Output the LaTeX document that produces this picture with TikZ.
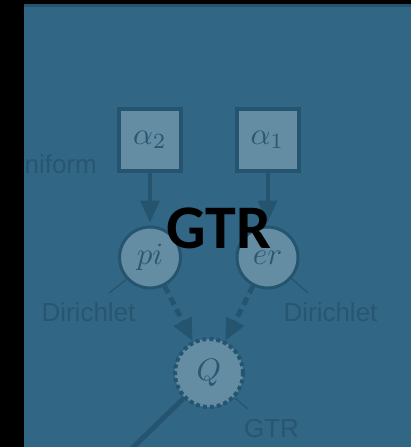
\documentclass[tikz,border=0pt]{standalone}
\usepackage{graphicx}
\usepackage{fontspec}
\setsansfont{Liberation Sans}
\newfontfamily\bigfont{Carlito}
\usetikzlibrary{arrows.meta}
\definecolor{bgblue}{RGB}{49,103,133}
\definecolor{nodefill}{RGB}{100,141,163}
\definecolor{darkline}{RGB}{37,84,111}
\definecolor{labelc}{RGB}{40,86,113}
\definecolor{mathc}{RGB}{42,88,114}
\newcommand{\bigmath}[1]{\scalebox{3.1}{$#1$}}
\begin{document}
\begin{tikzpicture}[x=1pt,y=-1pt,
  hyper/.style={rectangle,draw=darkline,fill=nodefill,text=mathc,line width=4pt,minimum size=62pt,inner sep=0pt},
  rv/.style={circle,draw=darkline,fill=nodefill,text=mathc,line width=3pt,minimum size=61pt,inner sep=0pt},
  det/.style={circle,draw=darkline,fill=nodefill,text=mathc,line width=4pt,dash pattern=on 4pt off 3pt,minimum size=68pt,inner sep=0pt},
  lbl/.style={font=\sffamily\fontsize{26}{26}\selectfont,text=labelc,inner sep=0pt,anchor=base},
  thinline/.style={draw=darkline,line width=1.3pt},
  arr/.style={draw=darkline,line width=4pt,-{Triangle[length=22pt,width=19pt]}},
  darr/.style={arr,line width=5pt,dash pattern=on 8pt off 5pt}
]
\useasboundingbox (0,0) rectangle (411,447);
\clip (0,0) rectangle (411,447);
\fill[black] (0,0) rectangle (411,447);
\fill[bgblue] (24,4) rectangle (411,447);
\draw[darkline,line width=2.5pt] (24,5.25) -- (411,5.25);

\node[lbl,anchor=base east] (uni) at (97,173) {Uniform};
\fill[black] (0,4) rectangle (24,447);

\node[hyper] (a2) at (150,140) {\bigmath{\alpha_2}};
\node[hyper] (a1) at (267.5,140) {\bigmath{\alpha_1}};
\node[rv] (pi) at (150,257.5) {\bigmath{pi}};
\node[rv] (er) at (267.5,257.5) {\bigmath{er}};
\node[det] (Q) at (209,373) {\bigmath{Q}};

\node[lbl] (dL) at (88.5,321) {Dirichlet};
\node[lbl] (dR) at (330.5,321) {Dirichlet};
\node[lbl] (gtr) at (271.5,437) {GTR};

\coordinate (dLe) at (109,293);
\coordinate (dRe) at (308,293);
\coordinate (gtre) at (248,409);
\coordinate (outQ) at (121,459);

\draw[thinline] (pi.-137) -- (dLe);
\draw[thinline] (er.-41) -- (dRe);
\draw[thinline] (Q.-44) -- (gtre);
\draw[darkline,line width=5pt] (Q.-135) -- (outQ);

\draw[arr,shorten >=3pt] (a2) -- (pi);
\draw[arr,shorten >=3pt] (a1) -- (er);
\draw[darr] (pi) -- (Q);
\draw[darr] (er) -- (Q);

\node[font=\bigfont\bfseries\fontsize{62}{62}\selectfont,anchor=base,inner sep=0pt] (title) at (219,248) {GTR};
\end{tikzpicture}
\end{document}
